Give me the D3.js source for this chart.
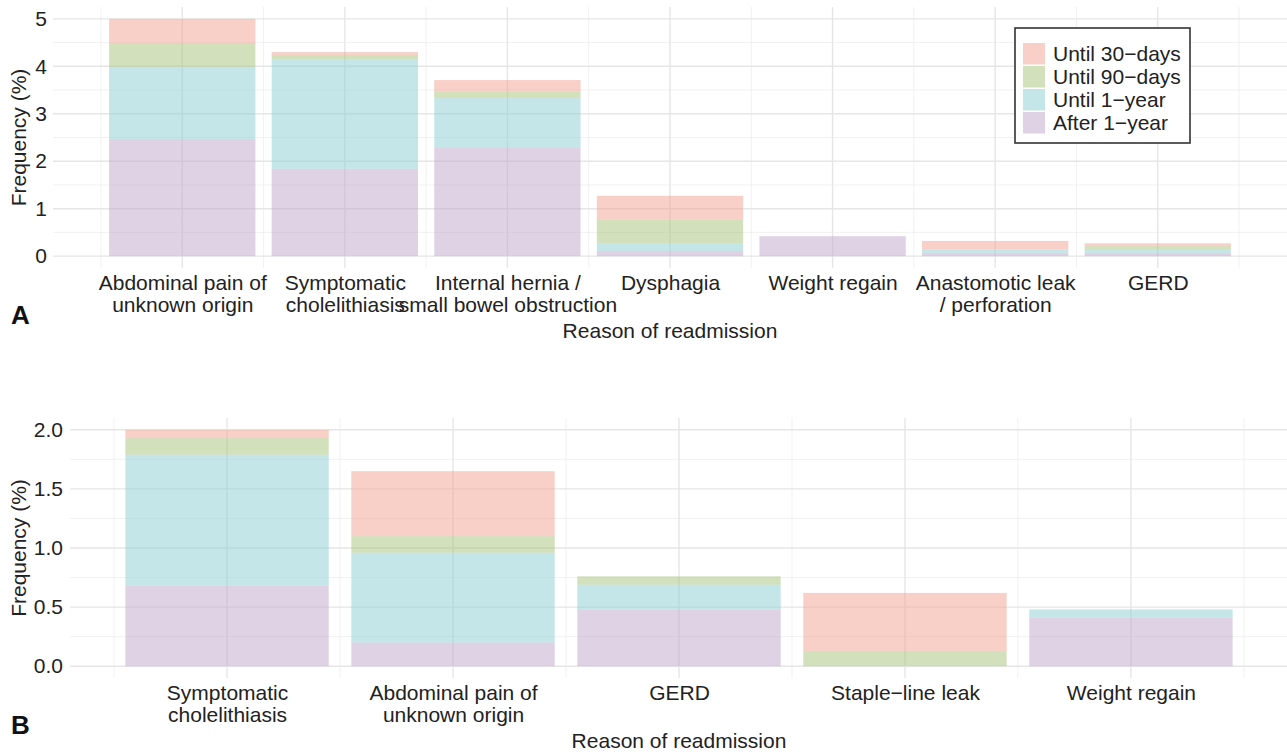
<!DOCTYPE html>
<html lang="en">
<head>
<meta charset="UTF-8">
<title>Reason of readmission</title>
<script src="https://d3js.org/d3.v7.min.js"></script>
<style>
  body { margin: 0; background: #fff; }
  svg { font-family: "Liberation Sans", Arial, sans-serif; }
</style>
</head>
<body>
<div id="chart"></div>
<script>
// series, bottom to top of each stack
const seriesKeys = ["After 1−year", "Until 1−year", "Until 90−days", "Until 30−days"];
const legendOrder = ["Until 30−days", "Until 90−days", "Until 1−year", "After 1−year"];
const seriesColors = {
  "Until 30−days": "#f1a18f",
  "Until 90−days": "#a7c179",
  "Until 1−year": "#8bcdd1",
  "After 1−year": "#c1a5cb"
};

// panel A
const catsA = ["Abdominal pain of\nunknown origin", "Symptomatic\ncholelithiasis",
  "Internal hernia /\nsmall bowel obstruction", "Dysphagia", "Weight regain",
  "Anastomotic leak\n/ perforation", "GERD"];
const after1yA = [2.47, 1.84, 2.28, 0.11, 0.42, 0.07, 0.07];
const until1yA = [1.52, 2.31, 1.05, 0.16, 0.00, 0.07, 0.08];
const until90A = [0.50, 0.09, 0.14, 0.50, 0.00, 0.00, 0.06];
const until30A = [0.51, 0.06, 0.24, 0.50, 0.00, 0.18, 0.06];
const yTicksA = [0, 1, 2, 3, 4, 5];

// panel B
const catsB = ["Symptomatic\ncholelithiasis", "Abdominal pain of\nunknown origin",
  "GERD", "Staple−line leak", "Weight regain"];
const after1yB = [0.68, 0.20, 0.48, 0.00, 0.41];
const until1yB = [1.11, 0.76, 0.21, 0.00, 0.07];
const until90B = [0.14, 0.14, 0.07, 0.13, 0.00];
const until30B = [0.07, 0.55, 0.00, 0.49, 0.00];
const yTicksB = [0, 0.5, 1, 1.5, 2];

const W = 1287, H = 752, fs = 21;

const svg = d3.select("#chart").append("svg")
  .attr("width", W).attr("height", H)
  .style("display", "block");

function table(cats, a, b, c, d) {
  return cats.map((name, i) => ({
    idx: i + 1, name,
    "After 1−year": a[i], "Until 1−year": b[i], "Until 90−days": c[i], "Until 30−days": d[i]
  }));
}

function drawPanel(opt) {
  const rows = table(opt.cats, ...opt.vals);
  const n = rows.length;
  const x = d3.scaleLinear().domain([0.55 - 0.05 * (n - 0.1), n + 0.45 + 0.05 * (n - 0.1)]).range(opt.xr);
  const y = d3.scaleLinear().domain(opt.yd).range(opt.yr);
  const g = svg.append("g");

  // grid
  const grid = g.append("g");
  const xMinor = d3.range(0.5, n + 1, 1);
  const xMajor = d3.range(1, n + 1);
  grid.selectAll(".hmin").data(opt.yMinor).join("line")
    .attr("x1", opt.xr[0]).attr("x2", opt.xr[1])
    .attr("y1", d => y(d)).attr("y2", d => y(d))
    .attr("stroke", "#ededed").attr("stroke-width", 0.8);
  grid.selectAll(".vmin").data(xMinor).join("line")
    .attr("y1", opt.yr[0]).attr("y2", opt.yr[1])
    .attr("x1", d => x(d)).attr("x2", d => x(d))
    .attr("stroke", "#ededed").attr("stroke-width", 0.8);
  grid.selectAll(".hmaj").data(opt.yTicks).join("line")
    .attr("x1", opt.xr[0]).attr("x2", opt.xr[1])
    .attr("y1", d => y(d)).attr("y2", d => y(d))
    .attr("stroke", "#e6e6e6").attr("stroke-width", 1.4);
  grid.selectAll(".vmaj").data(xMajor).join("line")
    .attr("y1", opt.yr[0]).attr("y2", opt.yr[1])
    .attr("x1", d => x(d)).attr("x2", d => x(d))
    .attr("stroke", "#e6e6e6").attr("stroke-width", 1.4);

  // stacked bars
  const stacked = d3.stack().keys(seriesKeys)(rows);
  g.append("g").selectAll("g").data(stacked).join("g")
    .attr("fill", s => seriesColors[s.key])
    .attr("fill-opacity", 0.5)
    .selectAll("rect").data(s => s).join("rect")
      .attr("x", d => x(d.data.idx - 0.45))
      .attr("width", d => x(d.data.idx + 0.45) - x(d.data.idx - 0.45))
      .attr("y", d => y(d[1]))
      .attr("height", d => y(d[0]) - y(d[1]));

  // y axis
  const ya = g.append("g")
    .attr("transform", `translate(${opt.xr[0]},0)`)
    .call(d3.axisLeft(y).tickValues(opt.yTicks).tickFormat(d3.format(opt.fmt)).tickSize(0).tickPadding(opt.yPad));
  ya.select(".domain").remove();
  ya.selectAll("text").attr("font-size", fs).attr("font-family", null).attr("fill", "#222");

  // x axis
  const xa = g.append("g")
    .attr("transform", `translate(0,${opt.yr[0]})`)
    .call(d3.axisBottom(x).tickValues(xMajor).tickSize(0).tickPadding(7).tickFormat(i => rows[i - 1].name));
  xa.select(".domain").remove();
  xa.selectAll("text").attr("font-size", fs).attr("font-family", null).attr("fill", "#222")
    .each(function (d) {
      const t = d3.select(this);
      const lines = rows[d - 1].name.split("\n");
      t.text(null);
      lines.forEach((ln, k) => {
        t.append("tspan").attr("x", 0).attr("dy", k === 0 ? "0.71em" : 22.5).text(ln);
      });
    }).attr("dy", null);

  // titles
  g.append("text")
    .attr("transform", `translate(19,${(opt.yr[0] + opt.yr[1]) / 2}) rotate(-90)`)
    .attr("text-anchor", "middle").attr("dy", "0.35em")
    .attr("font-size", fs).attr("fill", "#222")
    .text("Frequency (%)");
  g.append("text")
    .attr("x", (opt.xr[0] + opt.xr[1]) / 2).attr("y", opt.yr[0] + 69.5)
    .attr("text-anchor", "middle")
    .attr("font-size", fs).attr("fill", "#222")
    .text("Reason of readmission");
  g.append("text")
    .attr("x", 11).attr("y", opt.yr[0] + 56)
    .attr("font-size", 26).attr("font-weight", "bold").attr("fill", "#111")
    .text(opt.tag);
}

drawPanel({
  cats: catsA, vals: [after1yA, until1yA, until90A, until30A],
  xr: [53, 1287], yd: [-0.25, 5.25], yr: [268, 7],
  yTicks: yTicksA, yMinor: [0.5, 1.5, 2.5, 3.5, 4.5], fmt: "d", yPad: 6, tag: "A"
});

drawPanel({
  cats: catsB, vals: [after1yB, until1yB, until90B, until30B],
  xr: [70, 1288], yd: [-0.1, 2.1], yr: [678, 418],
  yTicks: yTicksB, yMinor: [0.25, 0.75, 1.25, 1.75], fmt: ".1f", yPad: 7, tag: "B"
});

// legend (panel A)
const leg = svg.append("g").attr("transform", "translate(1015,28)");
leg.append("rect").attr("width", 175).attr("height", 115)
  .attr("fill", "#fff").attr("stroke", "#333").attr("stroke-width", 1.6);
const item = leg.selectAll(".item").data(legendOrder).join("g")
  .attr("transform", (d, i) => `translate(8,${15 + i * 23})`);
item.append("rect").attr("width", 22).attr("height", 21.5)
  .attr("fill", d => seriesColors[d]).attr("fill-opacity", 0.5);
item.append("text").attr("x", 30).attr("y", 11).attr("dy", "0.35em")
  .attr("font-size", fs).attr("fill", "#222").text(d => d);
</script>
</body>
</html>
